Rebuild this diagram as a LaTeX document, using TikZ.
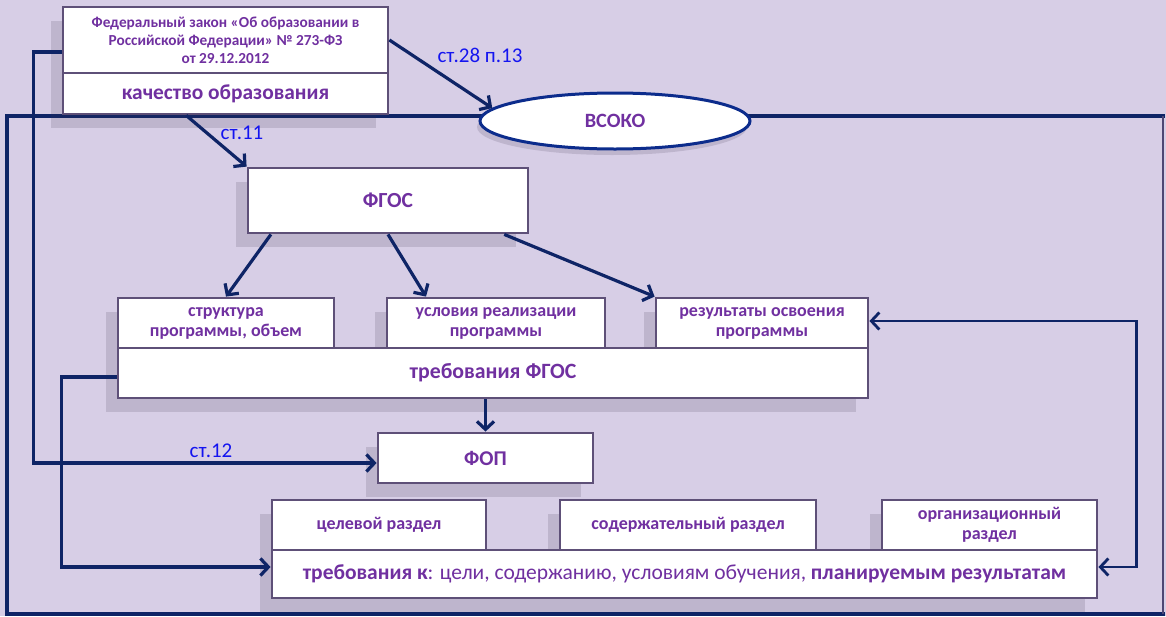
\documentclass[tikz,border=0pt]{standalone}
\usepackage{fontspec}
\setmainfont{Carlito}
\usetikzlibrary{arrows.meta,shapes.geometric,shadows,calc}
\definecolor{bg}{HTML}{D7CEE6}
\definecolor{navy}{HTML}{0E2466}
\definecolor{boxline}{HTML}{5E5078}
\definecolor{txt}{HTML}{7030A0}
\definecolor{lbl}{HTML}{1414F0}
\definecolor{ellline}{HTML}{0C2C8C}
\definecolor{shd}{HTML}{3E3450}
\begin{document}
\begin{tikzpicture}[x=1pt,y=1pt,
  shad/.style={general shadow={fill=shd, fill opacity=0.16, shadow xshift=-12pt, shadow yshift=-14pt}},
  box/.style={draw=boxline, line width=2.8pt, fill=white, inner sep=2pt, align=center, text=txt,
    font=\bfseries\fontsize{18}{20}\selectfont, shad},
  conn/.style={draw=navy, line width=3.2pt, -{Straight Barb[length=8pt,width=17pt]}},
  conntwo/.style={draw=navy, line width=2.8pt, {Straight Barb[length=8pt,width=17pt]}-{Straight Barb[length=8pt,width=17pt]}},
  frame/.style={draw=navy, line width=3.5pt},
  lab/.style={text=lbl, font=\fontsize{21}{24}\selectfont}]
\useasboundingbox (0,0) rectangle (1166,-616);
\fill[bg] (0,0) rectangle (1166,-616);
% outer frame
\coordinate (fTL) at (7,-116);
\coordinate (fTR) at (1163,-116);
\coordinate (fBL) at (7,-614);
\coordinate (fBR) at (1163,-614);
\draw[frame, line cap=rect] (fTR) -- (fTL) -- (fBL) -- (fBR);
\draw[draw=boxline!80!navy, line width=1.5pt] (fTR) -- (fBR);
% nodes
\node[box, minimum width=325pt, minimum height=66pt, font=\bfseries\fontsize{15.3}{18}\selectfont] (lawtop) at (225.5,-40)
  {Федеральный закон «Об образовании в\\Российской Федерации» № 273-ФЗ\\от 29.12.2012};
\node[box, minimum width=325pt, minimum height=41pt, font=\bfseries\fontsize{21.4}{24}\selectfont] (lawbot) at (225.5,-93.5) {качество образования};
\node[ellipse, draw=ellline, line width=3pt, fill=white, minimum width=270pt, minimum height=56pt, text=txt,
  font=\bfseries\fontsize{20.3}{23}\selectfont,
  general shadow={fill=shd, fill opacity=0.16, shadow xshift=-3pt, shadow yshift=-6pt}] (vsoko) at (615,-121) {ВСОКО};
\node[box, minimum width=280pt, minimum height=65pt, font=\bfseries\fontsize{21.5}{24}\selectfont] (fgos) at (388,-200.5) {ФГОС};
\node[box, minimum width=216pt, minimum height=50pt] (struct) at (226,-323) {структура\\программы, объем};
\node[box, minimum width=218pt, minimum height=50pt] (usl) at (496,-323) {условия реализации\\программы};
\node[box, minimum width=212pt, minimum height=50pt] (res) at (762,-323) {результаты освоения\\программы};
\node[box, minimum width=750pt, minimum height=50pt, font=\bfseries\fontsize{21.8}{24}\selectfont] (trebF) at (493,-373) {требования ФГОС};
\node[box, minimum width=215pt, minimum height=50pt, font=\bfseries\fontsize{21}{24}\selectfont] (fop) at (485.5,-458) {ФОП};
\node[box, minimum width=214pt, minimum height=50pt] (cel) at (379,-525) {целевой раздел};
\node[box, minimum width=256pt, minimum height=50pt] (soder) at (688,-525) {содержательный раздел};
\node[box, minimum width=215pt, minimum height=50pt] (org) at (989.5,-525) {организационный\\раздел};
\node[box, minimum width=825pt, minimum height=48pt, font=\bfseries\fontsize{21.5}{24}\selectfont] (trebK) at (684.5,-574)
  {требования к{\mdseries: цели, содержанию, условиям обучения, }планируемым результатам};
% connectors
\draw[conn] (lawtop.east) -- (vsoko.174);
\node[lab] (l28) at (480,-55) {ст.28 п.13};
\draw[conn] ($(lawbot.south west)!0.38!(lawbot.south east)$) -- (fgos.north west);
\node[lab] (l11) at (242,-133) {ст.11};
\draw[conn] ($(fgos.south west)!0.086!(fgos.south east)$) -- (struct.north);
\draw[conn] (fgos.south) -- ($(usl.north west)!0.183!(usl.north east)$);
\draw[conn] ($(fgos.south west)!0.911!(fgos.south east)$) -- (res.north west);
\draw[conn] (trebF.south -| fop.north) -- (fop.north);
\draw[conn] ($(lawtop.west)+(0,-12)$) -- ++(-28,0) |- ($(fop.west)+(0,-5)$);
\node[lab] (l12) at (211,-451) {ст.12};
\draw[conn] ($(trebF.west)+(0,-4)$) -- ++(-55,0) |- ($(trebK.west)+(0,7)$);
\draw[conntwo] ($(res.east)+(0,2)$) -- ++(267,0) |- ($(trebK.east)+(0,7)$);
\end{tikzpicture}
\end{document}
